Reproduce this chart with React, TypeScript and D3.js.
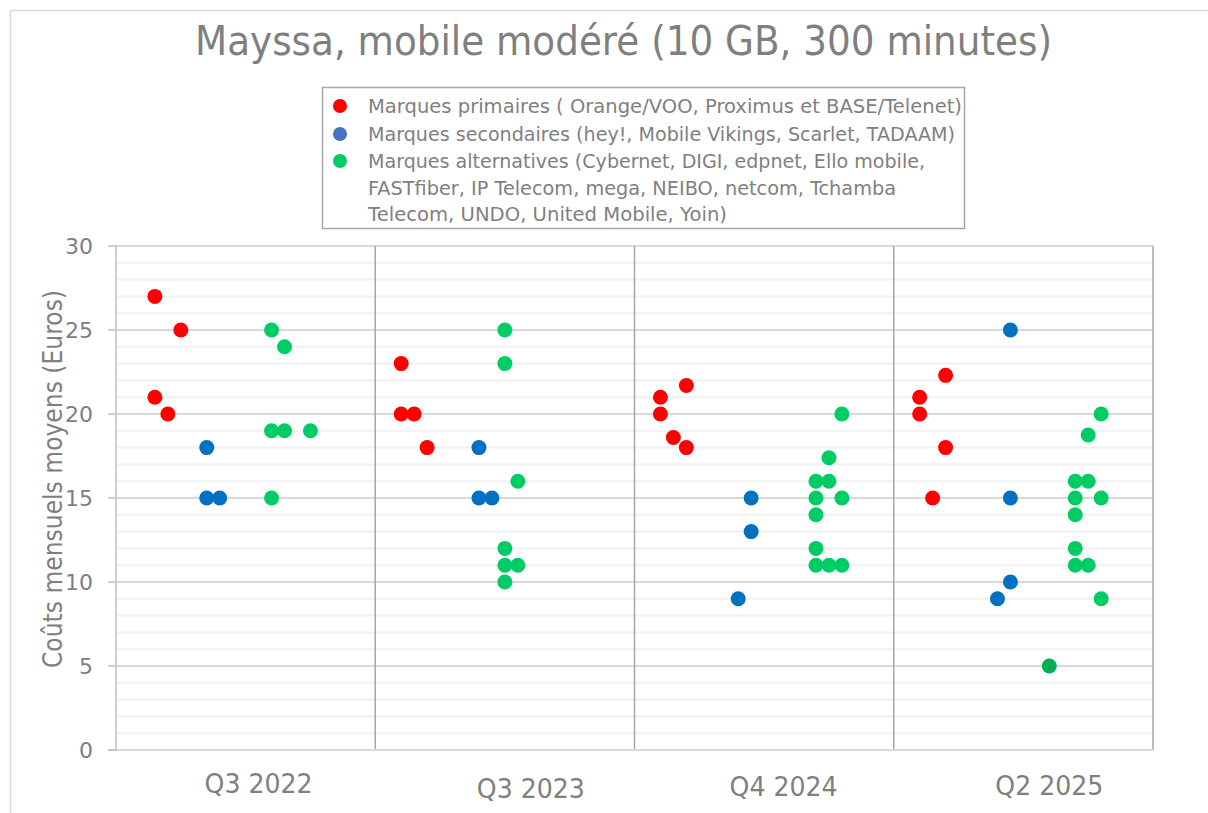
import React from "react";
import * as d3 from "d3";

// ---- data ----
const quarterLabels = ["Q3 2022", "Q3 2023", "Q4 2024", "Q2 2025"];
const quarterLabelX = [11, 32, 51.5, 72];
const quarterLabelBaseline = [793, 798, 796, 795];
const panelBreaks = [20, 40, 60, 80];
const yTicks = [0, 5, 10, 15, 20, 25, 30];

const primaryX = [3, 5, 3, 4, 22, 22, 23, 24, 42, 42, 43, 44, 44, 62, 62, 63, 64, 64];
const primaryY = [27, 25, 21, 20, 23, 20, 20, 18, 21, 20, 18.6, 18, 21.7, 21, 20, 15, 18, 22.3];

const secondaryX = [7, 7, 8, 28, 28, 29, 48, 49, 49, 68, 69, 69, 69];
const secondaryY = [18, 15, 15, 18, 15, 15, 9, 15, 13, 9, 10, 15, 25];

const alternativeX = [
  12, 13, 12, 13, 15, 12,
  30, 30, 31, 30, 30, 31, 30,
  54, 54, 54, 54, 54, 55, 55, 55, 56, 56, 56,
  74, 74, 74, 74, 74, 75, 75, 75, 76, 76, 76,
];
const alternativeY = [
  25, 24, 19, 19, 19, 15,
  25, 23, 16, 12, 11, 11, 10,
  16, 15, 14, 12, 11, 16, 17.4, 11, 20, 15, 11,
  16, 15, 14, 12, 11, 16, 18.75, 11, 20, 15, 9,
];

const extraX = [72];
const extraY = [5];

const legendLines = [
  "Marques primaires ( Orange/VOO, Proximus et BASE/Telenet)",
  "Marques secondaires (hey!, Mobile Vikings, Scarlet, TADAAM)",
  "Marques alternatives (Cybernet, DIGI, edpnet, Ello mobile,",
  "FASTfiber, IP Telecom, mega, NEIBO, netcom, Tchamba",
  "Telecom, UNDO, United Mobile, Yoin)",
];
const legendLineWidths = [594, 587, 557, 528, 359];
const legendMarkerColors = ["#FF0000", "#4472C4", "#00CC66"];

const title = "Mayssa, mobile modéré (10 GB, 300 minutes)";
const yTitle = "Coûts mensuels moyens (Euros)";

const FONT = "'DejaVu Sans', Verdana, sans-serif";
const TEXT = "#7f7f7f";

export default function App() {
  const x = d3.scaleLinear().domain([0, 80]).range([116, 1153]);
  const y = d3.scaleLinear().domain([0, 30]).range([750, 246]);
  const minor = d3.range(1, 30).filter((v) => v % 5 !== 0);
  const major = yTicks.filter((v) => v > 0);

  const series = [
    { xs: primaryX, ys: primaryY, color: "#FF0000" },
    { xs: secondaryX, ys: secondaryY, color: "#0070C0" },
    { xs: alternativeX, ys: alternativeY, color: "#00CC66" },
    { xs: extraX, ys: extraY, color: "#00B050" },
  ];

  return (
    <svg
      width={1208}
      height={813}
      style={{ position: "absolute", left: 0, top: 0, background: "#fff" }}
      fontFamily={FONT}
    >
      <rect x={0} y={0} width={1208} height={813} fill="#fff" />
      {/* chart frame */}
      <rect x={10.5} y={10.5} width={1230} height={830} fill="#fff" stroke="#d9d9d9" strokeWidth={1.5} />

      {/* title */}
      <text x={195} y={55} fontSize={40} fill={TEXT} textLength={857} lengthAdjust="spacingAndGlyphs">
        {title}
      </text>

      {/* minor gridlines */}
      {minor.map((v) => (
        <line key={"mi" + v} x1={x(0)} x2={x(80)} y1={y(v)} y2={y(v)} stroke="#f0f0f0" strokeWidth={2} />
      ))}
      {/* major gridlines */}
      {major.map((v) => (
        <line key={"ma" + v} x1={x(0)} x2={x(80)} y1={y(v)} y2={y(v)} stroke="#d9d9d9" strokeWidth={2} />
      ))}
      {/* panel separators */}
      {panelBreaks.map((b) => (
        <line key={"pb" + b} x1={x(b)} x2={x(b)} y1={y(30)} y2={y(0)} stroke="#a6a6a6" strokeWidth={1.5} />
      ))}
      {/* axes */}
      <line x1={x(0) - 8} x2={x(80)} y1={y(0)} y2={y(0)} stroke="#d9d9d9" strokeWidth={2} />
      <line x1={x(0)} x2={x(0)} y1={y(30)} y2={y(0)} stroke="#bfbfbf" strokeWidth={1.5} />
      {yTicks.map((v) => (
        <g key={"yt" + v}>
          <line x1={x(0) - 8} x2={x(0)} y1={y(v)} y2={y(v)} stroke="#bfbfbf" strokeWidth={1.5} />
          <text x={93} y={y(v) + 8} fontSize={22} fill={TEXT} textAnchor="end">
            {v}
          </text>
        </g>
      ))}

      {/* y title */}
      <text
        transform={`translate(62, ${479}) rotate(-90)`}
        fontSize={26}
        fill={TEXT}
        textAnchor="middle"
        textLength={378}
        lengthAdjust="spacingAndGlyphs"
      >
        {yTitle}
      </text>

      {/* x labels */}
      {quarterLabels.map((q, i) => (
        <text
          key={q}
          x={x(quarterLabelX[i])}
          y={quarterLabelBaseline[i]}
          fontSize={27}
          fill={TEXT}
          textAnchor="middle"
          textLength={108}
          lengthAdjust="spacingAndGlyphs"
        >
          {q}
        </text>
      ))}

      {/* points */}
      {series.map((s, si) =>
        s.xs.map((xv, i) => (
          <circle key={si + "-" + i} cx={x(xv)} cy={y(s.ys[i])} r={7.5} fill={s.color} />
        ))
      )}

      {/* legend */}
      <rect x={322.5} y={87.5} width={642} height={141} fill="#fff" stroke="#a6a6a6" strokeWidth={1.5} />
      {legendLines.map((l, i) => (
        <text
          key={"lg" + i}
          x={368}
          y={[113, 141, 168, 195, 221][i]}
          fontSize={19}
          fill={TEXT}
          textLength={legendLineWidths[i]}
          lengthAdjust="spacingAndGlyphs"
        >
          {l}
        </text>
      ))}
      {legendMarkerColors.map((c, i) => (
        <circle key={"lm" + i} cx={340} cy={[106, 134, 161][i]} r={7} fill={c} />
      ))}
    </svg>
  );
}
